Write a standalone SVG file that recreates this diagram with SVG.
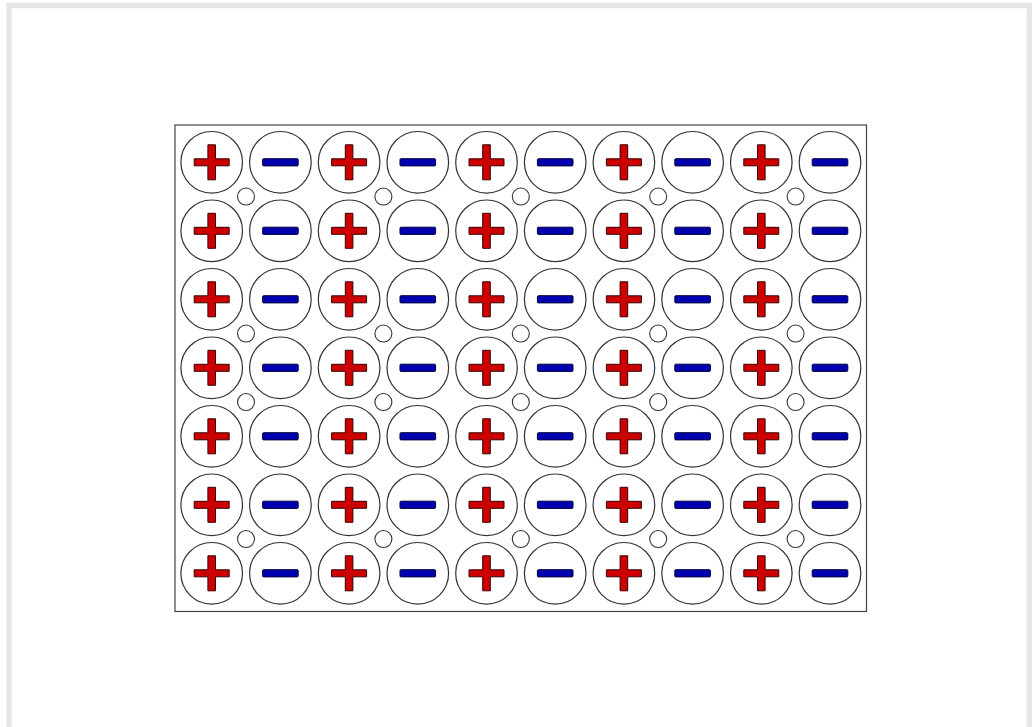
<svg xmlns="http://www.w3.org/2000/svg" xmlns:xlink="http://www.w3.org/1999/xlink" width="1032" height="727" viewBox="0 0 1032 727">
<style>
.big{fill:#fff;stroke:#333;stroke-width:1.2}
.small{fill:#fff;stroke:#333;stroke-width:1.1}
.plus{fill:#cc0000;stroke:#3a0000;stroke-width:1}
.minus{fill:#0000b0;stroke:#00003a;stroke-width:1}
</style>
<defs>
<g id="pos"><circle class="big" r="30.8"/><path class="plus" d="M-3.8,-17.5H3.8V-3.5H17.5V3.5H3.8V17.5H-3.8V3.5H-17.5V-3.5H-3.8Z"/></g>
<g id="neg"><circle class="big" r="30.8"/><rect class="minus" x="-17.8" y="-3.6" width="35.6" height="7.2" rx="1"/></g>
<g id="dot"><circle class="small" r="8.5"/></g>
</defs>
<rect x="0" y="0" width="1032" height="727" fill="#fff"/>
<path d="M9,730V5.5H1029.5V730" fill="none" stroke="#e6e6e6" stroke-width="5.5"/>
<rect x="175" y="125" width="691.5" height="486.5" fill="#fff" stroke="#444" stroke-width="1.2"/>
<g id="row1" transform="translate(0,162.3)">
<use xlink:href="#pos" x="211.7"/><use xlink:href="#neg" x="280.4"/><use xlink:href="#pos" x="349.1"/><use xlink:href="#neg" x="417.8"/><use xlink:href="#pos" x="486.5"/><use xlink:href="#neg" x="555.2"/><use xlink:href="#pos" x="623.9"/><use xlink:href="#neg" x="692.6"/><use xlink:href="#pos" x="761.3"/><use xlink:href="#neg" x="830"/>
</g>
<use id="row2" xlink:href="#row1" y="68.5"/>
<use id="row3" xlink:href="#row1" y="137"/>
<use id="row4" xlink:href="#row1" y="205.5"/>
<use id="row5" xlink:href="#row1" y="274"/>
<use id="row6" xlink:href="#row1" y="342.5"/>
<use id="row7" xlink:href="#row1" y="411"/>
<g id="dots1" transform="translate(0,196.55)">
<use xlink:href="#dot" x="246"/><use xlink:href="#dot" x="383.4"/><use xlink:href="#dot" x="520.8"/><use xlink:href="#dot" x="658.2"/><use xlink:href="#dot" x="795.6"/>
</g>
<use id="dots2" xlink:href="#dots1" y="137"/>
<use id="dots3" xlink:href="#dots1" y="205.5"/>
<use id="dots4" xlink:href="#dots1" y="342.5"/>
</svg>
